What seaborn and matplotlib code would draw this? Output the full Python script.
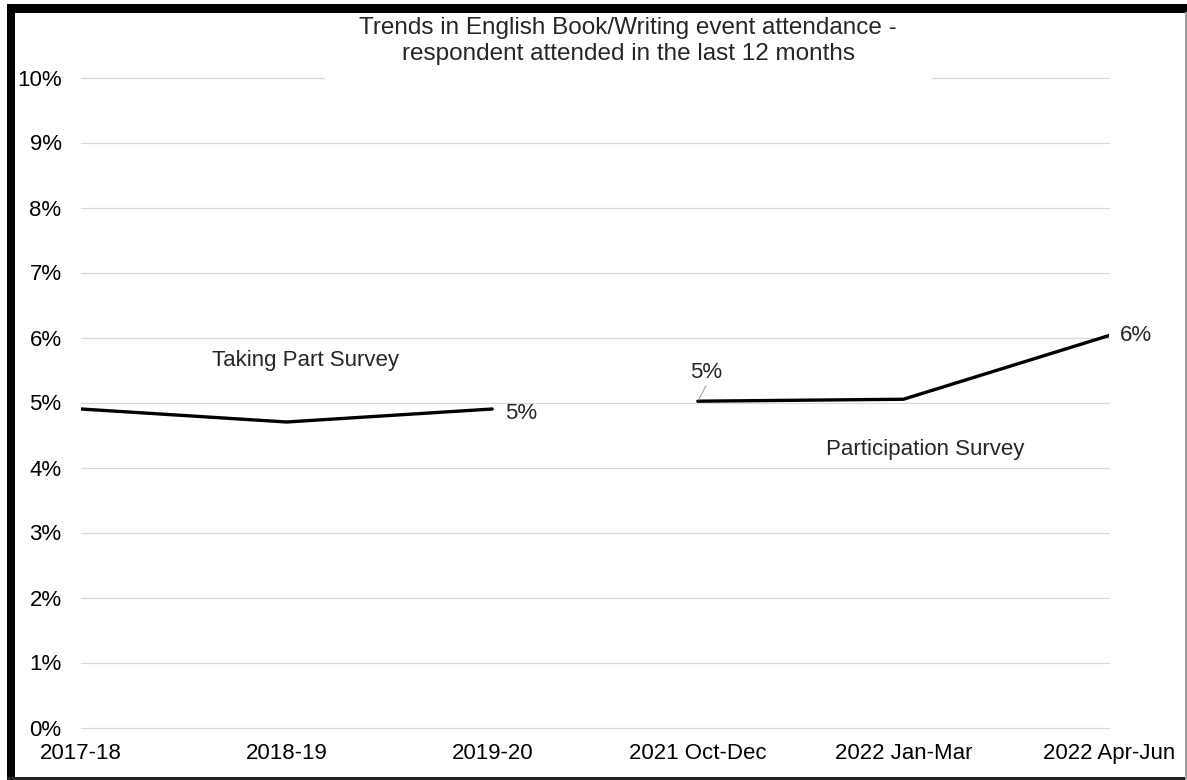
import matplotlib
matplotlib.use("Agg")
import matplotlib.pyplot as plt
from matplotlib.patches import Rectangle
import pandas as pd
import seaborn as sns

# Survey periods along the x axis
periods = ["2017-18", "2018-19", "2019-20", "2021 Oct-Dec", "2022 Jan-Mar", "2022 Apr-Jun"]
# Share of respondents (%) who attended in the last 12 months
taking_part = [4.9, 4.7, 4.9]          # Taking Part Survey, 2017-18 .. 2019-20
participation = [5.02, 5.05, 6.03]     # Participation Survey, 2021 Oct-Dec .. 2022 Apr-Jun
y_ticks = [0, 1, 2, 3, 4, 5, 6, 7, 8, 9, 10]

title = "Trends in English Book/Writing event attendance -\nrespondent attended in the last 12 months"

df = pd.DataFrame({
    "pos": list(range(len(periods))),
    "value": taking_part + participation,
    "survey": ["Taking Part Survey"] * len(taking_part) + ["Participation Survey"] * len(participation),
})

sns.set_style("white")
plt.rcParams["font.family"] = ["Liberation Sans", "DejaVu Sans"]

W, H = 1187, 780
fig = plt.figure(figsize=(W / 100, H / 100), dpi=100)
ax = fig.add_axes([81 / W, (H - 727.5) / H, 1028 / W, 650 / H])

sns.lineplot(
    data=df, x="pos", y="value", hue="survey",
    palette={"Taking Part Survey": "black", "Participation Survey": "black"},
    linewidth=2.4, legend=False, sort=False, ax=ax,
)

ax.set_xlim(0, len(periods) - 1)
ax.set_ylim(0, 10)
ax.set_yticks(y_ticks)
ax.set_yticklabels([f"{v}%" for v in y_ticks])
ax.set_xticks(range(len(periods)))
ax.set_xticklabels(periods)
ax.set_xlabel("")
ax.set_ylabel("")
ax.grid(axis="y", color="#d9d9d9", linewidth=0.9)
ax.grid(axis="x", visible=False)
for gl in ax.get_ygridlines():
    gl.set_clip_on(False)
for s in ax.spines.values():
    s.set_visible(False)
ax.tick_params(axis="both", length=0, labelsize=16, colors="black")
ax.tick_params(axis="x", pad=11)
ax.tick_params(axis="y", pad=14)

# Value labels at the ends of each series
ax.annotate(f"{taking_part[-1]:.0f}%", xy=(2, taking_part[-1]), xytext=(9, -3),
            textcoords="offset points", ha="left", va="center", fontsize=16,
            annotation_clip=False)
ax.annotate(f"{participation[0]:.0f}%", xy=(3, participation[0]), xytext=(6, 21),
            textcoords="offset points", ha="center", va="center", fontsize=16,
            arrowprops=dict(arrowstyle="-", color="#a6a6a6", lw=0.8,
                            shrinkA=0, shrinkB=1, relpos=(0.55, 0.0)),
            annotation_clip=False)
ax.annotate(f"{participation[-1]:.0f}%", xy=(5, participation[-1]), xytext=(8, 0),
            textcoords="offset points", ha="left", va="center", fontsize=16,
            annotation_clip=False)

# Series names
ax.text(1.09, 5.65, "Taking Part Survey", ha="center", va="center", fontsize=16)
ax.text(4.105, 4.28, "Participation Survey", ha="center", va="center", fontsize=16)

# Title with a white box over the top gridline
fig.patches.append(Rectangle((325 / W, 1 - 88 / H), 607 / W, 76 / H,
                             transform=fig.transFigure, facecolor="white",
                             edgecolor="none", zorder=2))
fig.text(628 / W, 1 - 41 / H, title, ha="center", va="center", fontsize=17.5,
         linespacing=1.22, zorder=3)

# Frame around the chart
fig.patches.append(Rectangle((7 / W, 0), 8 / W, 776 / H, transform=fig.transFigure,
                             facecolor="black", edgecolor="none", zorder=5))
fig.patches.append(Rectangle((7 / W, 1 - 12.5 / H), 1180 / W, 8.5 / H, transform=fig.transFigure,
                             facecolor="black", edgecolor="none", zorder=5))
fig.patches.append(Rectangle((7 / W, 0), 1180 / W, 3 / H, transform=fig.transFigure,
                             facecolor="#222222", edgecolor="none", zorder=5))
fig.patches.append(Rectangle((1185 / W, 0), 2 / W, 768 / H, transform=fig.transFigure,
                             facecolor="#a0a0a0", edgecolor="none", zorder=5))

fig.savefig("out.png", dpi=100, facecolor="white")
